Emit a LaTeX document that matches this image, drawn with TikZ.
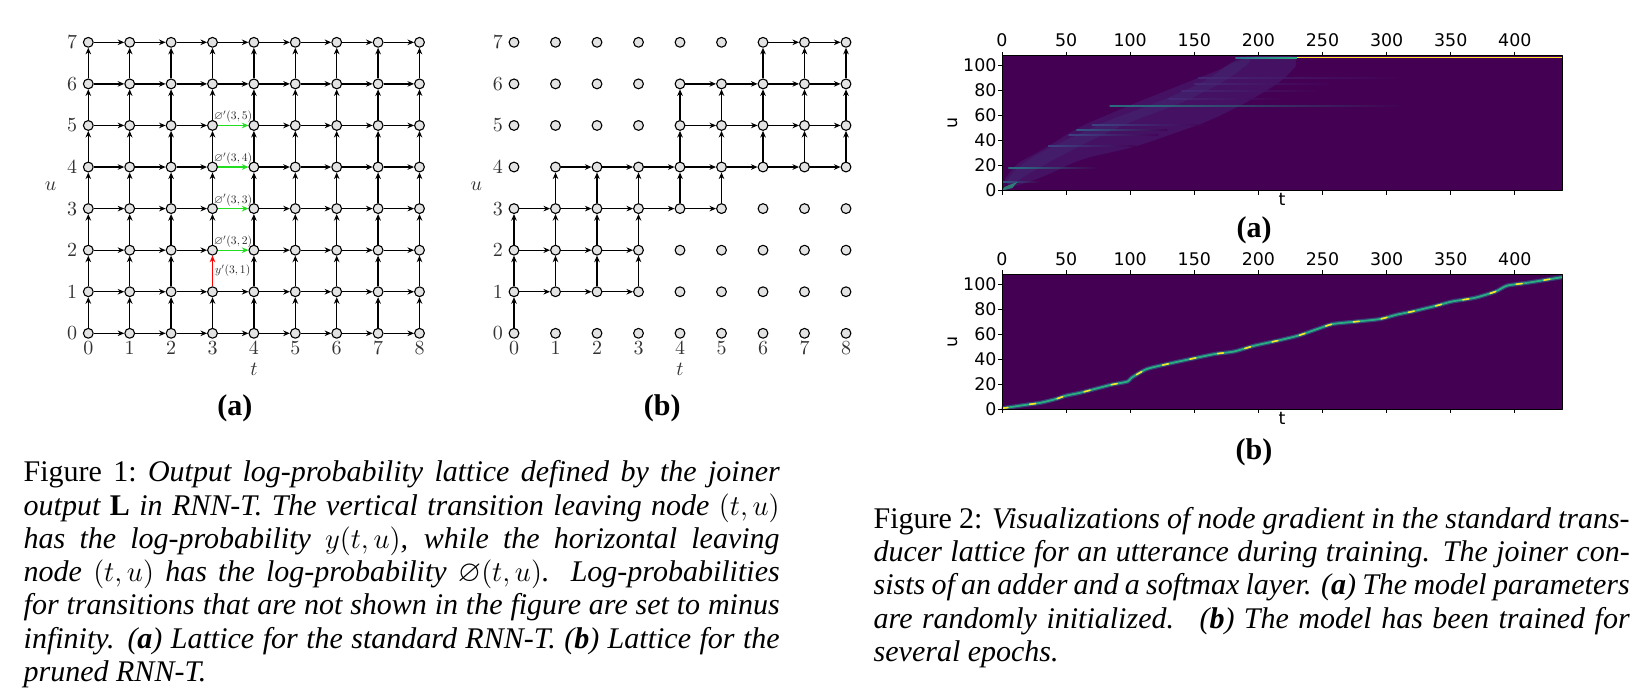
\documentclass[tikz,border=0pt]{standalone}
\usepackage{amssymb}
\usepackage{fontspec}
\setmainfont{Liberation Serif}
\newfontfamily\mplfont{DejaVu Sans}
\usetikzlibrary{arrows.meta}
\definecolor{vir0}{HTML}{440154}
\definecolor{vir1}{HTML}{472D7B}
\definecolor{vir2}{HTML}{3B528B}
\definecolor{vir3}{HTML}{2C728E}
\definecolor{vir5}{HTML}{21918C}
\definecolor{vir6}{HTML}{28AE80}
\definecolor{vir9}{HTML}{FDE725}
\definecolor{hgreen}{HTML}{22DD22}
\tikzset{
  lat/.style={circle, draw, fill=gray!22, line width=0.55pt, inner sep=0pt, minimum size=4.9pt},
  arr/.style={-{Stealth[length=3.3pt,width=2.8pt]}, line width=0.65pt},
  latnum/.style={font={\fontsize{10}{12}\selectfont}, text=black!80},
  lbl/.style={inner sep=1pt, text=black!85},
  sublabel/.style={font={\fontsize{15}{16.65}\selectfont\bfseries}},
  tick/.style={line width=0.4pt},
  mpl/.style={font={\mplfont\fontsize{8.7}{10}\selectfont}},
  capt/.style={text width=378pt, align=justify, inner sep=0pt, anchor=base west, font={\fontsize{15}{16.65}\selectfont}}
}
% axes of one heat map, #1 = prefix of node names
\newcommand{\heatframe}[1]{%
  \draw[line width=0.5pt] (0,0) rectangle (437,107.7);
  \foreach \t in {0,50,...,400} {
    \draw[tick] (\t,107.7) -- ++(0,2pt) node[mpl, above, inner sep=2.2pt] (#1t\t) {\t};
    \draw[tick] (\t,0) -- ++(0,-2pt);}
  \foreach \u in {0,20,...,100}
    \draw[tick] (0,\u) -- ++(-2pt,0) node[mpl, left, inner sep=0.6pt] (#1u\u) {\u};
  \node[mpl] (#1xl) at (218.5,-7.2) {t};
  \node[mpl, rotate=90] (#1yl) at (-38.2,53.85) {u};
}
\newcommand{\tinylbl}[1]{\scalebox{0.58}{$#1$}}
\begin{document}
\begin{tikzpicture}[x=0.5pt, y=-0.5pt, line join=round]
\useasboundingbox (0,0) rectangle (1642,698);

% lattice (a): standard
\begin{scope}[shift={(88.3,333.3)}, x=20.7pt, y=20.785pt]
  \foreach \t in {0,...,8} \foreach \u in {0,...,7}
    \node[lat] (a-\t-\u) at (\t,\u) {};
  \foreach \t in {0,...,7} {
    \pgfmathtruncatemacro\n{\t+1}
    \foreach \u in {0,...,7} {
      \def\noarr{0}
      \ifnum\t=3 \ifnum\u>1 \ifnum\u<6 \def\noarr{1}\fi\fi\fi
      \ifnum\noarr=0 \draw[arr] (a-\t-\u) -- (a-\n-\u);\fi
    }
  }
  \foreach \t in {0,...,8} {
    \foreach \u in {0,...,6} {
      \pgfmathtruncatemacro\up{\u+1}
      \def\noarr{0}
      \ifnum\t=3 \ifnum\u=1 \def\noarr{1}\fi\fi
      \ifnum\noarr=0 \draw[arr] (a-\t-\u) -- (a-\t-\up);\fi
    }
  }
  \foreach \u in {2,...,5}
    \draw[arr, hgreen] (a-3-\u) -- node[lbl, above] (ga-\u) {\tinylbl{\varnothing'(3,\u)}} (a-4-\u);
  \draw[arr, red] (a-3-1) -- node[lbl, right] (ya-1) {\tinylbl{y'(3,1)}} (a-3-2);
  \foreach \u in {0,...,7} \node[latnum] (au-\u) at (-0.39,\u) {$\u$};
  \foreach \t in {0,...,8} \node[latnum] (at-\t) at (\t,-0.36) {$\t$};
  \node[latnum] (au) at (-0.91,3.55) {$u$};
  \node[latnum] (at) at (4,-0.87) {$t$};
  \node[sublabel] (laba) at (3.54,-1.80) {(a)};
\end{scope}

% lattice (b): pruned
\begin{scope}[shift={(514,333.3)}, x=20.75pt, y=20.785pt]
  \foreach \t in {0,...,8} \foreach \u in {0,...,7}
    \node[lat] (b-\t-\u) at (\t,\u) {};
  \foreach \t/\s in {0/0,1/1,2/1,3/1,4/3,5/3,6/4,7/4,8/4} {
    \pgfmathtruncatemacro\e{\s+2}
    \foreach \u in {\s,...,\e} {
      \pgfmathtruncatemacro\up{\u+1}
      \draw[arr] (b-\t-\u) -- (b-\t-\up);
    }
  }
  \foreach \t/\s/\m in {0/0/1,1/1/1,2/1/1,3/1/3,4/3/3,5/3/4,6/4/4,7/4/4} {
    \pgfmathtruncatemacro\n{\t+1}
    \pgfmathtruncatemacro\e{\s+3}
    \foreach \u in {\m,...,\e}
      \draw[arr] (b-\t-\u) -- (b-\n-\u);
  }
  \foreach \u in {0,...,7} \node[latnum] (bu-\u) at (-0.39,\u) {$\u$};
  \foreach \t in {0,...,8} \node[latnum] (bt-\t) at (\t,-0.36) {$\t$};
  \node[latnum] (bu) at (-0.91,3.55) {$u$};
  \node[latnum] (bt) at (4,-0.87) {$t$};
  \node[sublabel] (labb) at (3.57,-1.80) {(b)};
\end{scope}

% heat map (a): random init
\begin{scope}[shift={(1002,190.6)}, x=0.641pt, y=0.625pt]
  \fill[vir0] (0,0) rectangle (437,107.7);
  \fill[vir1, opacity=0.4, rounded corners=8pt] (0,0) -- (5,18) -- (36,35) -- (58,50) -- (104,70) -- (153,90)
    -- (178,100) -- (188,107.7) -- (235,107.7) -- (222,90) -- (190,70) -- (160,55) -- (140,48)
    -- (104,35) -- (60,25) -- (35,12) -- cycle;
  \fill[vir2, opacity=0.18, rounded corners=8pt] (0,0) -- (3,10) -- (20,25) -- (45,38) -- (80,55) -- (120,70)
    -- (160,88) -- (185,107.7) -- (200,107.7) -- (175,88) -- (140,70) -- (100,55) -- (65,38)
    -- (35,22) -- (12,8) -- cycle;
  \foreach \u/\a/\b/\c in {35.5/36/104/vir2, 44.5/52/122/vir2, 52.5/70/160/vir2, 48.5/58/129/vir3,
      73/130/222/vir1, 80/140/250/vir1, 85/150/260/vir1, 90/153/314/vir1, 6.7/0/30/vir3,
      18/5/75/vir5, 67.7/84/314/vir5}
    \shade[left color=\c, right color=vir0, opacity=0.75] (\a,\u-0.4) rectangle (\b,\u+0.4);
  \fill[vir6, opacity=0.7] (0,0) -- (2,3) -- (12,7) -- (8,2) -- cycle;
  \shade[left color=vir3, right color=vir6] (182,105.7) rectangle (230,106.5);
  \fill[vir9] (230,105.8) rectangle (437,106.6);
  \heatframe{ha}
\end{scope}
\node[sublabel] (hla) at (1254,230) {(a)};

% heat map (b): trained
\begin{scope}[shift={(1002,409)}, x=0.641pt, y=0.625pt]
  \fill[vir0] (0,0) rectangle (437,107.7);
  \draw[vir6, line width=0.9pt, line cap=round,
      preaction={draw=vir3, line width=2.1pt, opacity=0.6},
      postaction={draw=vir9, line width=0.8pt, dash pattern=on 3pt off 11pt}]
    plot[smooth, tension=0.4] coordinates {(0,0.5) (17.6,3.2) (30,5) (42,8) (50,10.7) (61,13) (76,17)
      (85.5,19.5) (98,22) (101,25) (113,32) (129,36) (147,40) (166,44) (181,46) (197,50.7)
      (215,54.7) (231,58.7) (246,64) (258,68) (277,70) (295,72) (308,75.5) (320,78) (339,82.7)
      (351,86) (369,89) (385,94) (394,98.7) (410,101) (437,105.5)};
  \heatframe{hb}
\end{scope}
\node[sublabel] (hlb) at (1254,452) {(b)};

% captions
\node[capt] (cap1) at (23.3,481.7) {Figure 1:\ \textit{Output log-probability lattice defined by the joiner\linebreak
  output $\mathbf{L}$ in RNN-T. The vertical transition leaving node $(t,u)$\linebreak
  has the log-probability $y(t,u)$, while the horizontal leaving\linebreak
  node $(t,u)$ has the log-probability $\varnothing(t,u)$. Log-probabilities\linebreak
  for transitions that are not shown in the figure are set to minus\linebreak
  infinity. (\textbf{a}) Lattice for the standard RNN-T. (\textbf{b}) Lattice for the\linebreak
  pruned RNN-T.}};
\node[capt] (cap2) at (873.3,528.3) {Figure 2: \textit{Visualizations of node gradient in the standard trans-\linebreak
  ducer lattice for an utterance during training. The joiner con-\linebreak
  sists of an adder and a softmax layer. (\textbf{a}) The model parameters\linebreak
  are randomly initialized. \ (\textbf{b}) The model has been trained for\linebreak
  several epochs.}};
\end{tikzpicture}
\end{document}
